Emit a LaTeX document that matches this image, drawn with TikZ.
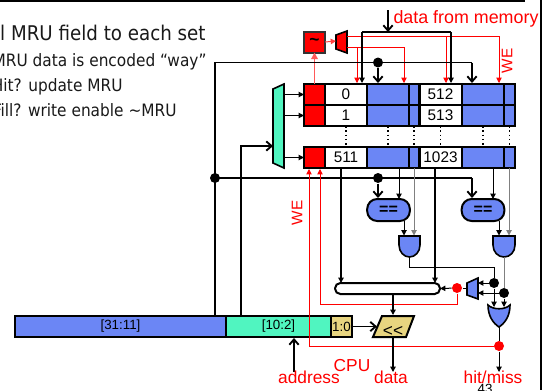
\documentclass[tikz,border=0pt]{standalone}
\usepackage{fontspec}
\setmainfont{Liberation Sans}
\newfontfamily\slidefont{DejaVu Sans Condensed}
\usetikzlibrary{arrows.meta}

\definecolor{wayblue}{RGB}{107,134,245}
\definecolor{wayaqua}{RGB}{80,245,192}
\definecolor{waykhaki}{RGB}{232,213,128}

\tikzset{every picture/.style={line width=0.75pt}}
\tikzset{
  cell/.style={draw,line width=1.5pt,inner sep=0pt,outer sep=0pt,minimum height=15.75pt,font=\fontsize{11.5}{12}\selectfont},
  redcell/.style={cell,fill=red,minimum width=15.75pt},
  tagcell/.style={cell,fill=white,minimum width=31.5pt},
  bluecell/.style={cell,fill=wayblue,minimum width=31.5pt},
  bitcell/.style={cell,fill=wayblue,minimum width=8pt},
  addrcell/.style={cell,font=\fontsize{10}{12}\selectfont},
  compare/.style={cell,fill=wayblue,minimum width=32pt,minimum height=16.5pt,rounded corners=7.5pt,font=\bfseries\fontsize{12}{12}\selectfont},
  dot/.style={circle,fill=black,inner sep=0pt,minimum size=7.5pt},
  reddot/.style={dot,fill=red},
  label/.style={text=red,inner sep=0pt,font=\fontsize{13}{14}\selectfont},
  slide/.style={inner sep=0pt,text=black!90,anchor=base east},
  gate/.style={draw,line width=1.2pt,fill=wayblue},
  bus/.style={line width=1.4pt},
  busarrow/.style={bus,-{Straight Barb[length=4pt,width=7pt]}},
  wire/.style={line width=0.75pt},
  wirearrow/.style={wire,-{Triangle[length=4pt,width=4pt]}},
  greyarrow/.style={wirearrow,color=black!50},
  redwire/.style={color=red,line width=0.6pt},
  redarrow/.style={redwire,-{Triangle[length=4pt,width=4pt]}},
}

\begin{document}
\begin{tikzpicture}[x=0.75pt,y=0.75pt,yscale=-1,xscale=1]
\path[use as bounding box,clip] (0,0) rectangle (548,390);

% Slide frame
\coordinate (frameA) at (0,1);
\coordinate (frameB) at (525,1);
\coordinate (frameC) at (541,0);
\coordinate (frameD) at (541,390);
\draw [line width=1.5pt] (frameA) -- (frameB);
\draw [line width=1.5pt] (frameC) -- (frameD);

% Slide text
\node [slide,font=\slidefont\fontsize{15.2}{18}\selectfont] (slideA) at (206,40) {l MRU field to each set};
\node [slide,font=\slidefont\fontsize{12.8}{16}\selectfont] (slideB) at (207,66.7) {MRU data is encoded “way”};
\node [slide,font=\slidefont\fontsize{12.8}{16}\selectfont] (slideC) at (123,91.7) {Hit? update MRU};
\node [slide,font=\slidefont\fontsize{12.8}{16}\selectfont] (slideD) at (177,116.7) {Fill? write enable \char"007E MRU};

% Free ends of the connectors
\coordinate (tagBusTop) at (215,62.5);
\coordinate (tagBusLow) at (215,178);
\coordinate (tagBusEnd) at (215,315);
\coordinate (idxBusEnd) at (241,315);
\coordinate (idxBusTop) at (241,146);
\coordinate (muxIn) at (273,146);
\coordinate (muxOutA) at (284,94.5);
\coordinate (muxOutB) at (284,115.5);
\coordinate (muxOutC) at (284,157.5);
\coordinate (memIn) at (388,10);
\coordinate (memBus) at (388,32);
\coordinate (memBusA) at (362,32);
\coordinate (memBusB) at (451,32);
\coordinate (memEndA) at (362,83);
\coordinate (memEndB) at (451,83);
\coordinate (tagEndA) at (378,83);
\coordinate (tagEndB) at (472,83);
\coordinate (tagCornerA) at (472,62.5);
\coordinate (tagCornerB) at (472,178);
\coordinate (cmpEndA) at (378,198);
\coordinate (cmpEndB) at (472,198);
\coordinate (weOutA) at (347,36);
\coordinate (weOutB) at (347,47);
\coordinate (weCornerA) at (499,36);
\coordinate (weCornerB) at (404,47);
\coordinate (weMidA) at (446,36);
\coordinate (weMidB) at (357,47);
\coordinate (weEndA) at (499,83);
\coordinate (weEndB) at (404,83);
\coordinate (weEndC) at (446,83);
\coordinate (weEndD) at (357,83);

% Address bar
\node [addrcell,fill=wayblue,minimum width=158.25pt] (addrTag) at (120.5,326.5) {[31:11]};
\node [addrcell,fill=wayaqua,minimum width=78.75pt] (addrIndex) at (278.5,326.5) {[10:2]};
\node [addrcell,fill=waykhaki,minimum width=15.75pt] (addrOffset) at (341.5,326.5) {1:0};

% Decoder
\draw [gate,fill=wayaqua] (273,89) -- (284,84) -- (284,168) -- (273,163) -- cycle;

% Cache rows
\node [redcell] (redA) at (314.5,94.5) {};
\node [tagcell] (tagA) at (346,94.5) {0};
\node [bluecell] (dataA) at (388,94.5) {};
\node [bitcell] (bitA) at (414,94.5) {};
\node [tagcell] (tagB) at (440.5,94.5) {512};
\node [bluecell] (dataB) at (483,94.5) {};
\node [bitcell] (bitB) at (509.5,94.5) {};
\node [redcell] (redC) at (314.5,115.5) {};
\node [tagcell] (tagC) at (346,115.5) {1};
\node [bluecell] (dataC) at (388,115.5) {};
\node [bitcell] (bitC) at (414,115.5) {};
\node [tagcell] (tagD) at (440.5,115.5) {513};
\node [bluecell] (dataD) at (483,115.5) {};
\node [bitcell] (bitD) at (509.5,115.5) {};
\node [redcell] (redE) at (314.5,157.5) {};
\node [tagcell] (tagE) at (346,157.5) {511};
\node [bluecell] (dataE) at (388,157.5) {};
\node [bitcell] (bitE) at (414,157.5) {};
\node [tagcell] (tagF) at (440.5,157.5) {1023};
\node [bluecell] (dataF) at (483,157.5) {};
\node [bitcell] (bitF) at (509.5,157.5) {};

% Row dots
\draw [line width=1.2pt,dotted] (tagC.south) -- (tagE.north);
\draw [line width=1.2pt,dotted] (dataC.south) -- (dataE.north);
\draw [line width=1.2pt,dotted] (bitC.south) -- (bitE.north);
\draw [line width=1.2pt,dotted] (tagD.south) -- (tagF.north);
\draw [line width=1.2pt,dotted] (dataD.south) -- (dataF.north);
\draw [line width=1.2pt,dotted] (bitD.south) -- (bitF.north);

% MRU logic on top
\node [cell,fill=red,minimum width=15.75pt,minimum height=15.75pt,draw=black!80,font=\bfseries\fontsize{13}{14}\selectfont] (invert) at (314.5,42) {\char"007E};
\draw [gate,fill=red] (336,35) -- (347,31) -- (347,53) -- (336,49) -- cycle;
\coordinate (wayMuxIn) at (336,41);
\draw [color=red!75,line width=0.75pt,-{Triangle[length=4pt,width=4pt]}] (invert.east) -- (wayMuxIn);
\draw [color=red!65,line width=1pt,-{Triangle[length=5pt,width=5pt]}] (redA.north) -- (invert.south);
\draw [redarrow] (weOutA) -- (weCornerA) -- (weEndA);
\draw [redarrow] (weMidA) -- (weEndC);
\draw [redarrow] (weOutB) -- (weCornerB) -- (weEndB);
\draw [redarrow] (weMidB) -- (weEndD);

\draw [busarrow] (memIn) -- (memBus);
\draw [bus] (memBusA) -- (memBusB);
\draw [wirearrow,line width=1.4pt] (memBusA) -- (memEndA);
\draw [wirearrow,line width=1.4pt] (memBusB) -- (memEndB);

% Tag and index busses
\draw [bus] (tagBusEnd) -- (tagBusTop) -- (tagCornerA);
\draw [busarrow] (tagCornerA) -- (tagEndB);
\draw [bus] (tagBusLow) -- (tagCornerB);
\draw [busarrow] (tagCornerB) -- (cmpEndB);
\draw [busarrow] (idxBusEnd) -- (idxBusTop) -- (muxIn);
\draw [wirearrow] (muxOutA) -- (redA.west);
\draw [wirearrow] (muxOutB) -- (redC.west);
\draw [wirearrow] (muxOutC) -- (redE.west);

\node [dot] (tagDotA) at (378,62.5) {};
\node [dot] (tagDotB) at (378,178) {};
\node [dot] (tagDotC) at (215,178) {};
\draw [busarrow] (tagDotA) -- (tagEndA);
\draw [busarrow] (tagDotB) -- (cmpEndA);

% Comparators
\node [compare] (cmpA) at (388.5,210) {==};
\node [compare] (cmpB) at (483,210) {==};
\coordinate (cmpInA) at (399,199);
\coordinate (cmpInB) at (493,199);
\coordinate (cmpOutA) at (404,221);
\coordinate (cmpOutB) at (499,221);
\coordinate (andInA) at (404,235.5);
\coordinate (andInB) at (499,235.5);
\coordinate (andInC) at (414,235.5);
\coordinate (andInD) at (509,235.5);
\coordinate (dataOutA) at (399,168);
\coordinate (dataOutB) at (493,168);
\coordinate (bitOutA) at (414,168);
\coordinate (bitOutB) at (509,168);
\draw [wirearrow] (dataOutA) -- (cmpInA);
\draw [wirearrow] (dataOutB) -- (cmpInB);
\draw [greyarrow] (bitOutA) -- (andInC);
\draw [greyarrow] (bitOutB) -- (andInD);
\draw [wirearrow] (cmpOutA) -- (andInA);
\draw [wirearrow] (cmpOutB) -- (andInB);

% AND gates
\draw [gate] (399,236) -- (420,236) -- (420,245) .. controls (420,252) and (415,257) .. (409.5,257) .. controls (404,257) and (399,252) .. (399,245) -- cycle;
\draw [gate] (493,236) -- (515,236) -- (515,245) .. controls (515,252) and (510,257) .. (504,257) .. controls (498,257) and (493,252) .. (493,245) -- cycle;

% Way select and hit
\coordinate (andOutA) at (409.5,257);
\coordinate (andOutB) at (504,257);
\coordinate (hitA) at (409.5,267);
\coordinate (hitB) at (494,267);
\coordinate (orInA) at (494,307);
\coordinate (orInB) at (504,307);
\coordinate (orOut) at (499,327);
\coordinate (hitEnd) at (499,372);
\node [dot] (hitDotA) at (494,283) {};
\node [dot] (hitDotB) at (504,293) {};
\node [reddot] (missDot) at (499,346) {};
\node [reddot] (selDot) at (457,288) {};
\draw [wire] (andOutA) -- (hitA) -- (hitB) -- (hitDotA);
\draw [wire,color=black!50] (andOutB) -- (hitDotB);
\draw [wirearrow] (hitDotA) -- (orInA);
\draw [wirearrow] (hitDotB) -- (orInB);
\draw [gate] (488,305) .. controls (493,310) and (505,310) .. (510,305) .. controls (510,316) and (505,323) .. (499,327) .. controls (493,323) and (488,316) .. (488,305) -- cycle;
\draw [wirearrow] (orInA |- hitDotA) -- (478,283);
\draw [wirearrow] (orInB |- hitDotB) -- (478,293);
\draw [gate] (467,283) -- (478,278) -- (478,299) -- (467,295) -- cycle;
\coordinate (selIn) at (467,288);
\draw [wire] (selIn) -- (selDot);
\draw [wire] (orOut) -- (missDot);
\draw [wirearrow] (missDot) -- (hitEnd);

% Data select
\node [cell,fill=white,minimum width=78.75pt,minimum height=8.25pt,rounded corners=4pt] (drive) at (387.5,288.5) {};
\coordinate (tagOutA) at (341,168);
\coordinate (tagOutB) at (435,168);
\draw [wirearrow,line width=1pt] (tagOutA) -- (tagOutA |- drive.north);
\draw [wirearrow,line width=1pt] (tagOutB) -- (tagOutB |- drive.north);
\draw [wirearrow] (selDot) -- (drive.east);

% Red write enables
\coordinate (weA) at (320,304);
\coordinate (weB) at (457,304);
\coordinate (weC) at (320,169);
\coordinate (weD) at (309,346);
\coordinate (weE) at (309,169);
\draw [redarrow] (selDot) -- (weB) -- (weA) -- (weC);
\draw [redarrow] (missDot) -- (weD) -- (weE);

% Shifter
\draw [gate,fill=waykhaki,line width=1.5pt] (382,316) -- (414,316) -- (406,337) -- (373,337) -- cycle;
\node [inner sep=0pt,font=\fontsize{13}{14}\selectfont] (shift) at (393,331) {{<}{<}};
\coordinate (shiftTop) at (393,315);
\coordinate (shiftIn) at (377,326.5);
\coordinate (shiftOut) at (393,337);
\coordinate (dataEnd) at (393,372);
\coordinate (addrIn) at (294,372);
\coordinate (addrEnd) at (294,338);
\draw [wirearrow,line width=1.2pt] (drive.south -| shiftTop) -- (shiftTop);
\draw [busarrow] (addrOffset.east) -- (shiftIn);
\draw [wirearrow,line width=1.2pt] (shiftOut) -- (dataEnd);
\draw [busarrow] (addrIn) -- (addrEnd);

% Text Node
\node [label,anchor=west,font=\fontsize{13.4}{14}\selectfont] (memText) at (393,19) {data from memory};
\node [label,font=\fontsize{11.5}{12}\selectfont,rotate=90] (weTextA) at (507,61) {WE};
\node [label,font=\fontsize{11.5}{12}\selectfont,rotate=90] (weTextB) at (297,213) {WE};
\node [label] (cpuText) at (352,366) {CPU};
\node [label] (addrText) at (309,377) {address};
\node [label] (dataText) at (391,377) {data};
\node [label] (hitText) at (493,377) {hit/miss};
\node [inner sep=0pt,font=\fontsize{10}{12}\selectfont] (pageText) at (485,389) {43};

\end{tikzpicture}
\end{document}
